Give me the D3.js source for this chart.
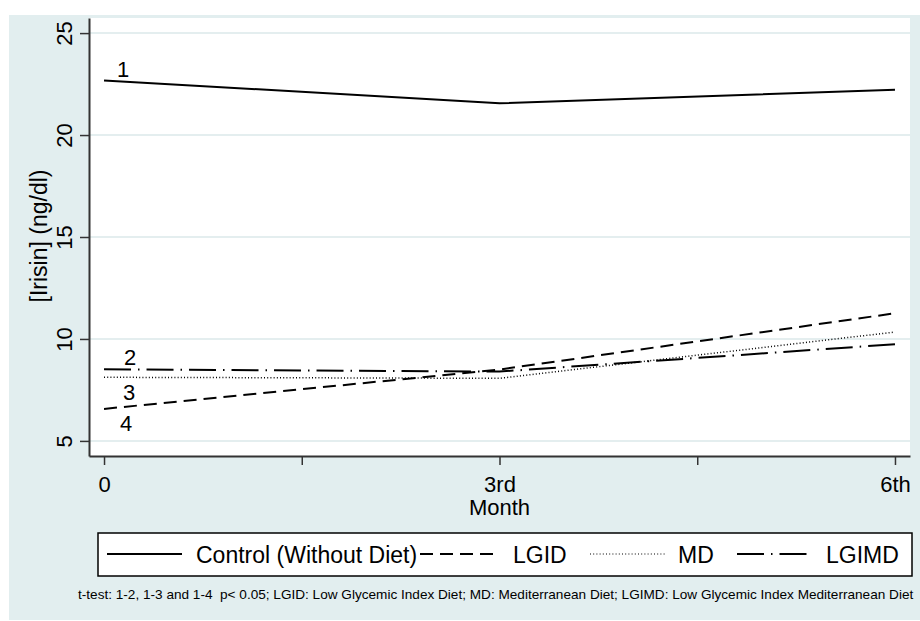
<!DOCTYPE html>
<html>
<head>
<meta charset="utf-8">
<script src="https://cdn.jsdelivr.net/npm/d3@7"></script>
<style>
  body { margin: 0; background: #fff; }
  svg { display: block; font-family: "Liberation Sans", Arial, sans-serif; }
</style>
</head>
<body>
<div id="chart"></div>
<script>
// months on the x axis
var months = [0, 3, 6];
var monthLabels = ['0', '3rd', '6th'];
var yTicks = [5, 10, 15, 20, 25];

// group means of irisin (ng/dl)
var controlVals = [22.68, 21.56, 22.22];
var lgidVals = [6.57, 8.5, 11.26];
var mdVals = [8.12, 8.07, 10.34];
var lgimdVals = [8.51, 8.4, 9.74];

var seriesNames = ['Control (Without Diet)', 'LGID', 'MD', 'LGIMD'];
var seriesDash = ['none', '13,7', '1,2.2', '27,7,1.5,7'];
var lineLabels = ['1', '2', '3', '4'];

var width = 920, height = 621;
var plot = {left: 89, right: 910, top: 18, bottom: 456};

var svg = d3.select('#chart').append('svg')
  .attr('width', width)
  .attr('height', height);

// outer panel
svg.append('rect')
  .attr('x', 9).attr('y', 15)
  .attr('width', width - 9).attr('height', height - 16)
  .attr('fill', '#e2eeef');

svg.append('rect')
  .attr('x', plot.left).attr('y', plot.top)
  .attr('width', plot.right - plot.left).attr('height', plot.bottom - plot.top)
  .attr('fill', '#fff');

var x = d3.scaleLinear().domain([-0.114, 6.114]).range([plot.left, plot.right]);
var y = d3.scaleLinear().domain([4.26, 25.74]).range([plot.bottom, plot.top]);

// gridlines
svg.append('g').selectAll('line')
  .data(yTicks)
  .enter().append('line')
  .attr('x1', plot.left).attr('x2', plot.right)
  .attr('y1', function(d){ return y(d); })
  .attr('y2', function(d){ return y(d); })
  .attr('stroke', '#e4eeef')
  .attr('stroke-width', 2);

// y axis
var yAxis = svg.append('g')
  .attr('transform', 'translate(' + plot.left + ',0)')
  .call(d3.axisLeft(y).tickValues(yTicks).tickSize(9).tickSizeOuter(0));
yAxis.select('.domain').attr('stroke', '#333').attr('stroke-width', 2);
yAxis.selectAll('.tick line').attr('stroke', '#333').attr('stroke-width', 1.5);
yAxis.selectAll('.tick text')
  .attr('font-size', 22).attr('fill', '#000')
  .attr('text-anchor', 'middle')
  .attr('x', 0).attr('y', 0).attr('dy', 0)
  .attr('transform', 'translate(-17,0) rotate(-90)');

// x axis
var xAxis = svg.append('g')
  .attr('transform', 'translate(0,' + plot.bottom + ')')
  .call(d3.axisBottom(x).tickValues([0, 1.5, 3, 4.5, 6]).tickSize(9).tickSizeOuter(0)
    .tickFormat(function(d){ var i = months.indexOf(d); return i < 0 ? '' : monthLabels[i]; }));
xAxis.select('.domain').attr('stroke', '#333').attr('stroke-width', 2);
xAxis.selectAll('.tick line').attr('stroke', '#333').attr('stroke-width', 1.5);
xAxis.selectAll('.tick text').attr('font-size', 22).attr('fill', '#000').attr('y', 20);

svg.append('text')
  .attr('x', x(3)).attr('y', 515)
  .attr('text-anchor', 'middle')
  .attr('font-size', 22)
  .text('Month');

svg.append('text')
  .attr('transform', 'translate(47,236) rotate(-90)')
  .attr('text-anchor', 'middle')
  .attr('font-size', 23)
  .text('[Irisin] (ng/dl)');

// lines
var allVals = [controlVals, lgidVals, mdVals, lgimdVals];
var line = d3.line()
  .x(function(d, i){ return x(months[i]); })
  .y(function(d){ return y(d); });

svg.append('g').selectAll('path')
  .data(allVals)
  .enter().append('path')
  .attr('d', function(d){ return line(d); })
  .attr('fill', 'none')
  .attr('stroke', '#000')
  .attr('stroke-width', function(d, i){ return i == 2 ? 1.5 : 2; })
  .attr('stroke-dasharray', function(d, i){ return seriesDash[i]; });

// line number labels near month 0 (1 = control, 2 = LGIMD, 3 = MD, 4 = LGID)
var labelPos = [
  {t: lineLabels[0], v: controlVals[0], dx: 19, dy: -3},
  {t: lineLabels[1], v: lgimdVals[0], dx: 26, dy: -4},
  {t: lineLabels[2], v: mdVals[0], dx: 25, dy: 23},
  {t: lineLabels[3], v: lgidVals[0], dx: 22, dy: 22}
];
svg.append('g').selectAll('text')
  .data(labelPos)
  .enter().append('text')
  .attr('x', function(d){ return x(0) + d.dx; })
  .attr('y', function(d){ return y(d.v) + d.dy; })
  .attr('text-anchor', 'middle')
  .attr('font-size', 22)
  .text(function(d){ return d.t; });

// legend
var legend = svg.append('g');
legend.append('rect')
  .attr('x', 98).attr('y', 533)
  .attr('width', 814).attr('height', 43)
  .attr('fill', '#fff')
  .attr('stroke', '#000')
  .attr('stroke-width', 1.5);

var legendItems = [
  {x1: 107, x2: 182, tx: 196},
  {x1: 420, x2: 500, tx: 513},
  {x1: 590, x2: 665, tx: 678},
  {x1: 737, x2: 812, tx: 826}
];
legend.selectAll('line')
  .data(legendItems)
  .enter().append('line')
  .attr('x1', function(d){ return d.x1; })
  .attr('x2', function(d){ return d.x2; })
  .attr('y1', 554).attr('y2', 554)
  .attr('stroke', '#000')
  .attr('stroke-width', function(d, i){ return i == 2 ? 1 : 2; })
  .attr('stroke-dasharray', function(d, i){ return seriesDash[i]; });
legend.selectAll('text')
  .data(legendItems)
  .enter().append('text')
  .attr('x', function(d){ return d.tx; })
  .attr('y', 563)
  .attr('font-size', 23)
  .text(function(d, i){ return seriesNames[i]; });

svg.append('text')
  .attr('x', 78).attr('y', 599)
  .attr('font-size', 13.6)
  .style('white-space', 'pre')
  .text('t-test: 1-2, 1-3 and 1-4  p< 0.05; LGID: Low Glycemic Index Diet; MD: Mediterranean Diet; LGIMD: Low Glycemic Index Mediterranean Diet');
</script>
</body>
</html>
